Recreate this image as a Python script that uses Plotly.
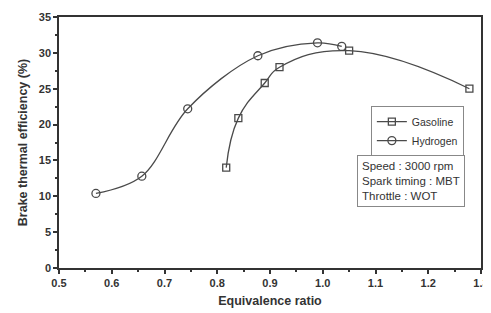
import plotly.graph_objects as go

gas_x = [0.817, 0.840, 0.890, 0.918, 1.050, 1.278]
gas_y = [14.0, 20.9, 25.8, 28.0, 30.3, 25.0]
h2_x = [0.570, 0.657, 0.744, 0.877, 0.990, 1.036]
h2_y = [10.4, 12.8, 22.2, 29.6, 31.4, 30.9]

x_ticks = [0.5, 0.6, 0.7, 0.8, 0.9, 1.0, 1.1, 1.2, 1.3]
x_labels = ["0.5", "0.6", "0.7", "0.8", "0.9", "1.0", "1.1", "1.2", "1.3"]
y_ticks = [0, 5, 10, 15, 20, 25, 30, 35]
y_labels = ["0", "5", "10", "15", "20", "25", "30", "35"]

col = "#4a4a4a"
axc = "#333333"
fam = "Liberation Sans, Arial"
fig = go.Figure()
fig.add_trace(go.Scatter(x=gas_x, y=gas_y, name="Gasoline", mode="lines+markers",
                         line=dict(color=col, width=1.3, shape="spline", smoothing=1.3),
                         marker=dict(symbol="square-open", size=7, color=col, line=dict(width=1.3))))
fig.add_trace(go.Scatter(x=h2_x, y=h2_y, name="Hydrogen", mode="lines+markers",
                         line=dict(color=col, width=1.3, shape="spline", smoothing=1.0),
                         marker=dict(symbol="circle-open", size=8, color=col, line=dict(width=1.3))))

fig.add_annotation(xref="paper", yref="paper", x=0.706, y=0.452, xanchor="left", yanchor="top",
                   text="Speed : 3000 rpm<br>Spark timing : MBT<br>Throttle : WOT",
                   showarrow=False, align="left", font=dict(size=11.5, color="#333", family=fam),
                   bordercolor="#888", borderwidth=1, borderpad=4, bgcolor="white")

# page is offset by the 8px body margin, so margins are shifted to compensate
fig.update_layout(
    width=491, height=313, margin=dict(l=51, r=18, t=9, b=53),
    paper_bgcolor="white", plot_bgcolor="white",
    font=dict(family=fam, color="#333"),
    showlegend=True,
    legend=dict(x=0.739, y=0.645, xanchor="left", yanchor="top", bordercolor="#888", borderwidth=1,
                font=dict(size=10.5, color="#333"), bgcolor="white", itemwidth=30, tracegroupgap=0),
    xaxis=dict(range=[0.5, 1.3], tickvals=x_ticks, ticktext=["<b>%s</b>" % t for t in x_labels],
               showgrid=False, zeroline=False, automargin=False,
               showline=True, linecolor=axc, linewidth=1.5, mirror=True, ticks="outside", ticklen=4,
               tickcolor=axc, tickwidth=1.5,
               minor=dict(ticks="outside", ticklen=2, dtick=0.05, tickcolor=axc),
               tickfont=dict(size=11, family=fam, color="#333", weight="bold"),
               title=dict(text="<b>Equivalence ratio</b>", font=dict(size=12.5, color="#333"), standoff=8)),
    yaxis=dict(range=[0, 35], tickvals=y_ticks, ticktext=["<b>%s</b>" % t for t in y_labels],
               showgrid=False, zeroline=False, automargin=False,
               showline=True, linecolor=axc, linewidth=1.5, mirror=True, ticks="outside", ticklen=4,
               tickcolor=axc, tickwidth=1.5,
               minor=dict(ticks="outside", ticklen=2, dtick=2.5, tickcolor=axc),
               tickfont=dict(size=11, family=fam, color="#333", weight="bold"),
               title=dict(text="<b>Brake thermal efficiency (%)</b>", font=dict(size=12.5, color="#333"), standoff=8)),
)
fig.write_html("out.html")
